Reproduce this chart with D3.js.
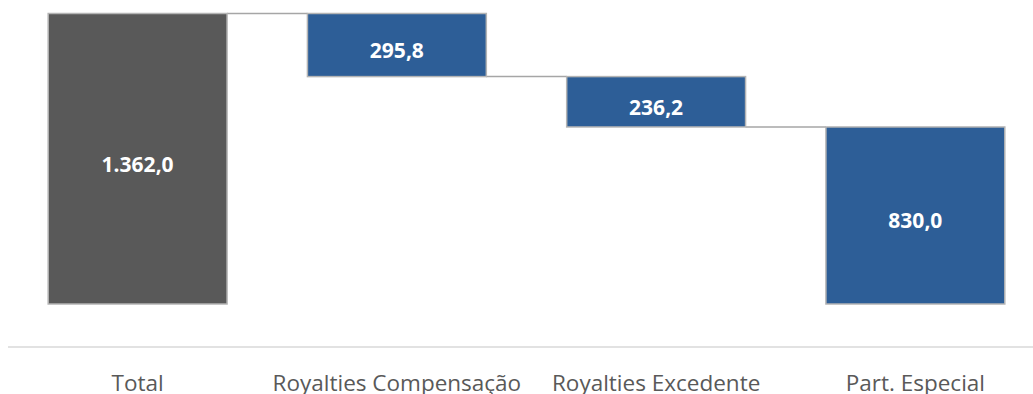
<!DOCTYPE html>
<html>
<head>
<meta charset="utf-8">
<script src="https://cdn.jsdelivr.net/npm/d3@7"></script>
<style>
  html, body { margin: 0; padding: 0; background: #fff; }
  svg { display: block; }
</style>
</head>
<body>
<svg id="chart" width="1033" height="394"></svg>
<script>
// Waterfall: total broken down into its components
const categories = ["Total", "Royalties Compensação", "Royalties Excedente", "Part. Especial"];
const values = [1362.0, 295.8, 236.2, 830.0];
const kinds = ["total", "step", "step", "step"];
const valueLabels = ["1.362,0", "295,8", "236,2", "830,0"];

const svg = d3.select("#chart");
const W = 1033;

const x = d3.scaleBand()
  .domain(categories)
  .range([8, 1045])
  .paddingInner(0.31)
  .paddingOuter(0.155);

const y = d3.scaleLinear()
  .domain([0, 1362])
  .range([304, 13.5]);

// compute floating segments: total bar from zero, steps descend from previous top
let running = 0;
const bars = categories.map((c, i) => {
  let y0, y1;
  if (kinds[i] === "total") {
    y0 = 0; y1 = values[i]; running = values[i];
  } else {
    y1 = running; y0 = running - values[i]; running = y0;
  }
  return { cat: c, y0, y1, kind: kinds[i], label: valueLabels[i] };
});

// connector lines between consecutive bars
const conn = svg.append("g").attr("stroke", "#a6a6a6").attr("stroke-width", 1.5);
bars.forEach((b, i) => {
  if (i === bars.length - 1) return;
  const level = b.kind === "total" ? b.y1 : b.y0;
  conn.append("line")
    .attr("x1", x(b.cat) + x.bandwidth())
    .attr("x2", x(bars[i + 1].cat))
    .attr("y1", y(level))
    .attr("y2", y(level));
});

// bars
svg.append("g").selectAll("rect")
  .data(bars)
  .join("rect")
  .attr("x", d => x(d.cat))
  .attr("y", d => y(d.y1))
  .attr("width", x.bandwidth())
  .attr("height", d => y(d.y0) - y(d.y1))
  .attr("fill", d => d.kind === "total" ? "#595959" : "#2d5e97")
  .attr("stroke", "#b4b4b4")
  .attr("stroke-width", 1.5);

// value labels
svg.append("g").selectAll("text")
  .data(bars)
  .join("text")
  .attr("x", d => x(d.cat) + x.bandwidth() / 2)
  .attr("y", d => (y(d.y0) + y(d.y1)) / 2 + 5)
  .attr("text-anchor", "middle")
  .attr("dominant-baseline", "central")
  .attr("fill", "#ffffff")
  .attr("font-family", "'Open Sans', sans-serif")
  .attr("font-weight", "bold")
  .attr("font-size", 21)
  .text(d => d.label);

// category axis
const axis = svg.append("g")
  .attr("transform", "translate(0,347)")
  .call(d3.axisBottom(x).tickSize(0).tickPadding(28));
axis.select(".domain").attr("stroke", "#d9d9d9").attr("stroke-width", 1.5)
  .attr("d", `M8,0H${W}`);
axis.selectAll(".tick text")
  .attr("fill", "#595959")
  .attr("font-family", "'Open Sans', sans-serif")
  .attr("font-size", 22.5);
</script>
</body>
</html>
